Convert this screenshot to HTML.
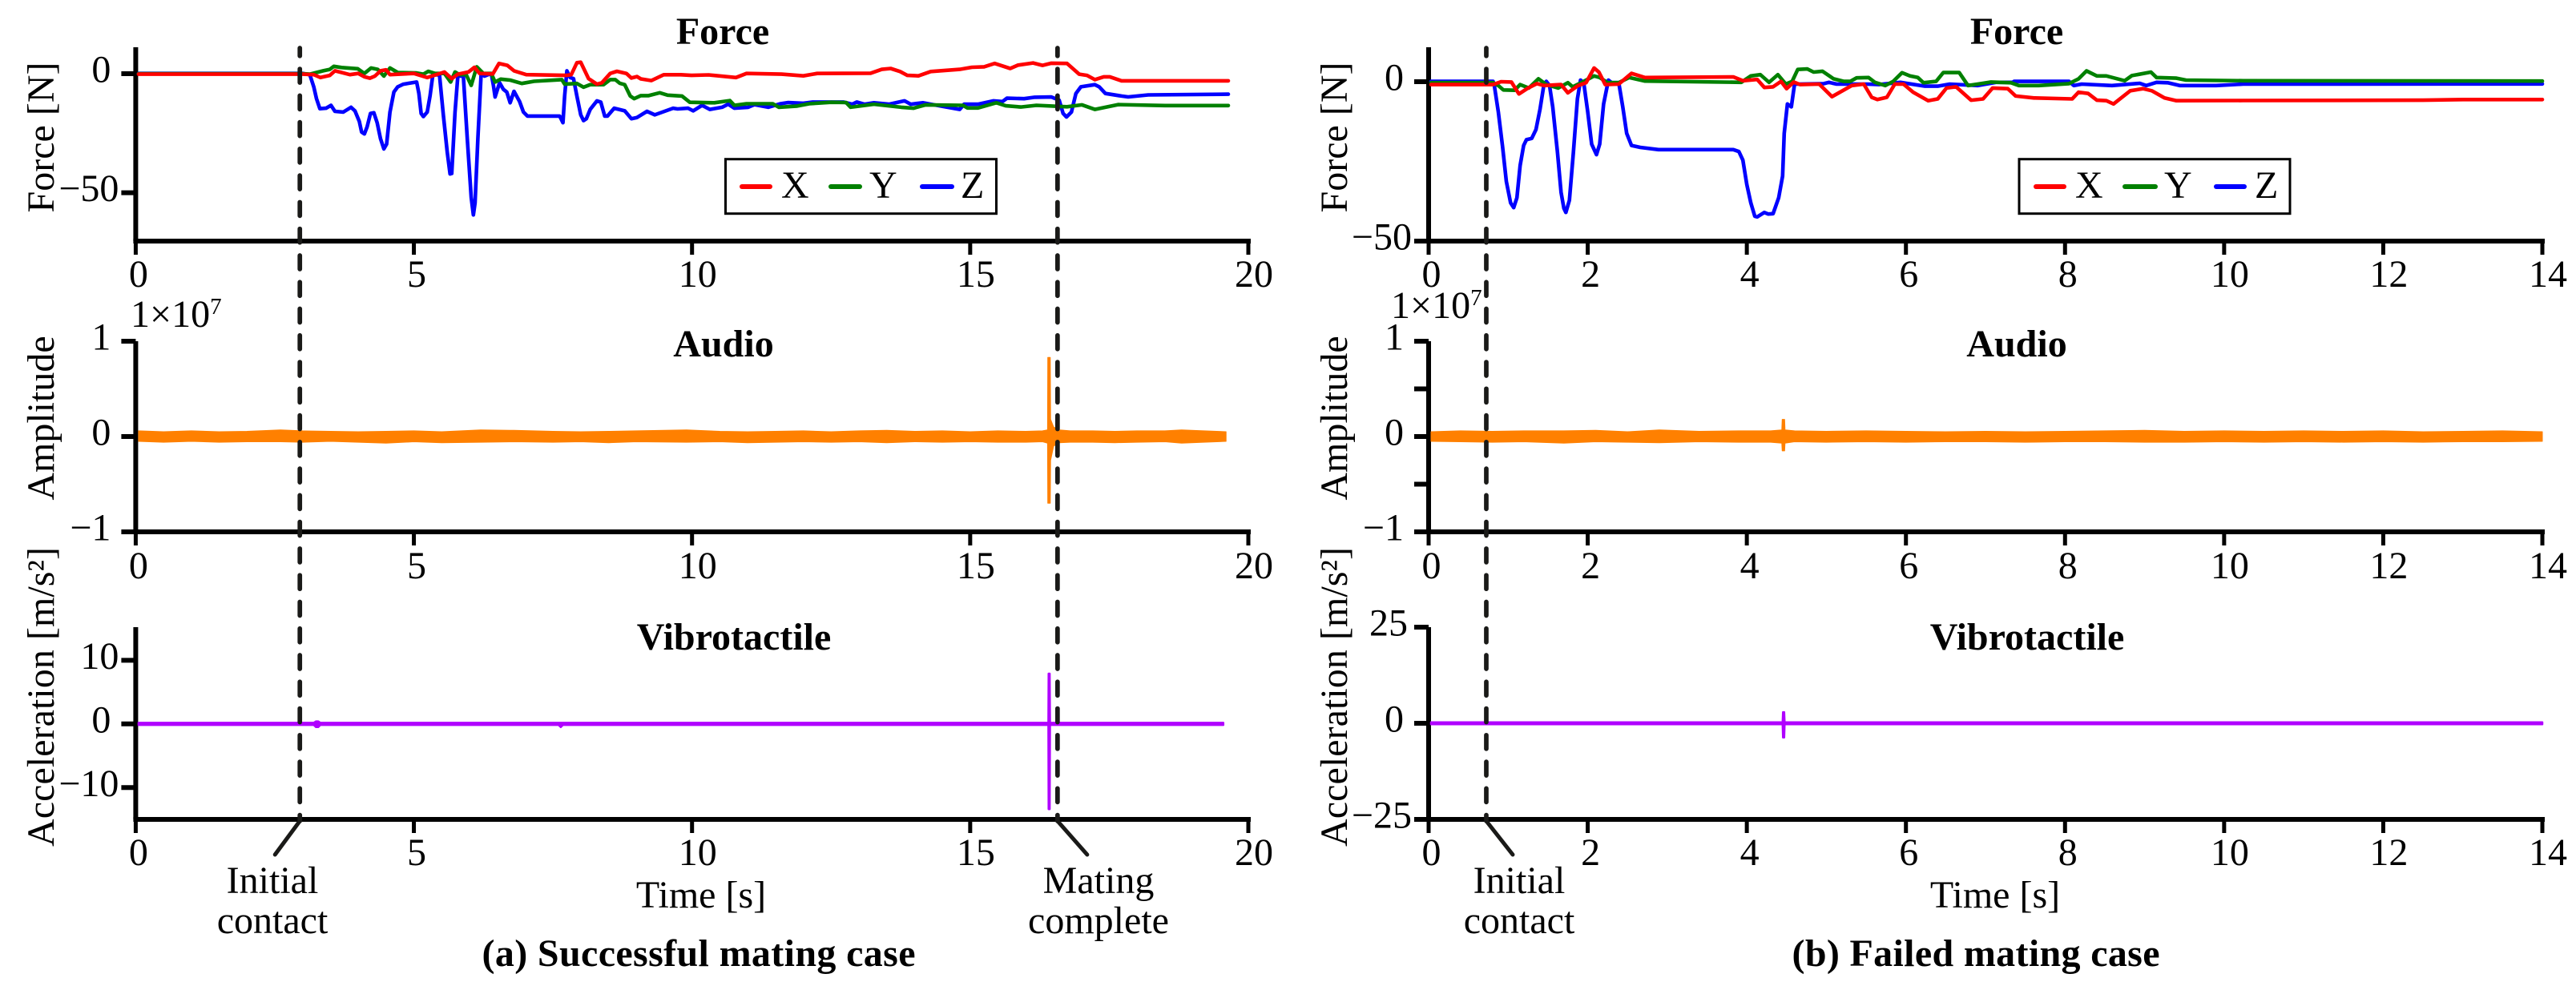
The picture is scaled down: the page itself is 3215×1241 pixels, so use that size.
<!DOCTYPE html>
<html lang="en">
<head>
<meta charset="utf-8">
<title>Mating case signals</title>
<style>
html,body{margin:0;padding:0;background:#fff;}
svg{display:block;}
text{font-family:"Liberation Serif","Times New Roman",serif;font-size:48px;fill:#000;}
.b{font-weight:bold;}
</style>
</head>
<body>
<svg id="chart" xmlns="http://www.w3.org/2000/svg" width="3215" height="1241" viewBox="0 0 3215 1241">
  <rect x="0" y="0" width="3215" height="1241" fill="#fff"/>
  <g id="plots"></g>

  <text class="b" x="902" y="55" text-anchor="middle">Force</text>
  <text class="b" x="903" y="445" text-anchor="middle">Audio</text>
  <text class="b" x="916" y="811" text-anchor="middle">Vibrotactile</text>
  <text class="b" x="2517" y="55" text-anchor="middle">Force</text>
  <text class="b" x="2517" y="445" text-anchor="middle">Audio</text>
  <text class="b" x="2530" y="811" text-anchor="middle">Vibrotactile</text>

  <text transform="translate(67 171.5) rotate(-90)" text-anchor="middle">Force [N]</text>
  <text transform="translate(67 522) rotate(-90)" text-anchor="middle">Amplitude</text>
  <text transform="translate(67 870) rotate(-90)" text-anchor="middle" textLength="374" lengthAdjust="spacing">Acceleration [m/s²]</text>
  <text transform="translate(1681 171.5) rotate(-90)" text-anchor="middle">Force [N]</text>
  <text transform="translate(1681 522) rotate(-90)" text-anchor="middle">Amplitude</text>
  <text transform="translate(1681 870) rotate(-90)" text-anchor="middle" textLength="374" lengthAdjust="spacing">Acceleration [m/s²]</text>

  <text x="163" y="408">1×10<tspan font-size="29" dy="-16">7</tspan></text>
  <text x="1736" y="397">1×10<tspan font-size="29" dy="-16">7</tspan></text>

  <g>
    <rect x="905.5" y="198.7" width="338" height="68" fill="#fff" stroke="#000" stroke-width="3"/>
    <line x1="926" y1="233" x2="961" y2="233" stroke="#ff0000" stroke-width="6" stroke-linecap="round"/>
    <text x="975" y="247">X</text>
    <line x1="1037" y1="233" x2="1073" y2="233" stroke="#008000" stroke-width="6" stroke-linecap="round"/>
    <text x="1085" y="247">Y</text>
    <line x1="1151" y1="233" x2="1188" y2="233" stroke="#0000ff" stroke-width="6" stroke-linecap="round"/>
    <text x="1199" y="247">Z</text>
  </g>
  <g>
    <rect x="2520" y="198.7" width="338" height="68" fill="#fff" stroke="#000" stroke-width="3"/>
    <line x1="2541" y1="233" x2="2576" y2="233" stroke="#ff0000" stroke-width="6" stroke-linecap="round"/>
    <text x="2590" y="247">X</text>
    <line x1="2652" y1="233" x2="2690" y2="233" stroke="#008000" stroke-width="6" stroke-linecap="round"/>
    <text x="2701" y="247">Y</text>
    <line x1="2766" y1="233" x2="2801" y2="233" stroke="#0000ff" stroke-width="6" stroke-linecap="round"/>
    <text x="2814" y="247">Z</text>
  </g>

  <g id="annotations"></g>

  <text x="340" y="1115" text-anchor="middle">Initial</text>
  <text x="340" y="1165" text-anchor="middle">contact</text>
  <text x="1371" y="1115" text-anchor="middle">Mating</text>
  <text x="1371" y="1165" text-anchor="middle">complete</text>
  <text x="1896" y="1115" text-anchor="middle">Initial</text>
  <text x="1896" y="1165" text-anchor="middle">contact</text>
  <text x="875" y="1133" text-anchor="middle">Time [s]</text>
  <text x="2490" y="1133" text-anchor="middle">Time [s]</text>
  <text class="b" x="872" y="1206" text-anchor="middle" textLength="541" lengthAdjust="spacing">(a) Successful mating case</text>
  <text class="b" x="2466" y="1206" text-anchor="middle" textLength="459" lengthAdjust="spacing">(b) Failed mating case</text>
</svg>

<script>
// ---------- DATA: case (a) force ----------
const forceAZTimes = [0.05,3.0,3.13,3.2,3.25,3.31,3.42,3.51,3.58,3.73,3.87,3.94,4.02,4.06,4.11,4.16,4.22,4.28,4.34,4.40,4.46,4.51,4.57,4.64,4.71,4.81,5.05,5.09,5.13,5.17,5.24,5.29,5.34,5.46,5.53,5.6,5.65,5.68,5.74,5.79,5.89,5.96,6.03,6.07,6.1,6.15,6.21,6.27,6.39,6.43,6.46,6.54,6.61,6.67,6.73,6.8,6.9,6.97,7.04,7.62,7.68,7.71,7.75,7.81,7.87,7.93,8.0,8.05,8.1,8.17,8.29,8.36,8.43,8.48,8.6,8.79,8.91,9.01,9.19,9.33,9.66,9.74,9.93,10.02,10.18,10.32,10.54,10.65,10.76,11.01,11.12,11.37,11.59,11.73,12.0,12.17,12.72,12.88,12.96,13.1,13.27,13.54,13.82,13.93,14.15,14.4,14.81,14.89,15.14,15.42,15.58,15.66,15.97,16.16,16.46,16.6,16.67,16.73,16.82,16.9,16.99,17.24,17.32,17.43,17.72,17.84,18.2,19.64];
const forceAZ = [0.1,0.1,-0.45,-5.5,-10.5,-14.7,-14.5,-13.3,-15.8,-16.1,-14.1,-15.6,-20.1,-24.5,-25.3,-22.3,-16.7,-16.4,-20.6,-27.3,-31.6,-29.6,-16.1,-7.7,-5.5,-4.4,-3.5,-8.3,-16.7,-18.0,-16.1,-9.4,-0.5,-0.5,-17.3,-33,-42.1,-41.9,-16.1,-1,-1,-27.3,-52,-59.3,-54.3,-27.3,0.7,-1,0.1,-4.9,-9.8,-3.8,-6.6,-7.7,-12.2,-7.4,-11.7,-16.1,-17.8,-17.8,-20.6,-9.4,1.2,-1.6,-2.1,-9.4,-17.3,-19.7,-18.9,-15,-11.4,-11.9,-17.8,-17.8,-14.5,-15.6,-18.9,-18.4,-15.8,-17.3,-14.5,-14.8,-14.5,-15.6,-13.3,-15,-14.1,-12.8,-14.5,-14.1,-13,-14.1,-12.6,-12.1,-12.4,-11.9,-11.9,-12.8,-11.9,-12.8,-12.2,-12.8,-11.4,-12.8,-12.2,-13.3,-15,-12.8,-12.8,-11.4,-11.7,-10.3,-10.5,-9.9,-9.8,-11.1,-16.7,-18.2,-16.1,-8.3,-5.5,-4.6,-5.5,-8.3,-9.4,-9.75,-8.9,-8.6];

const forceAYTimes = [0.05,3.0,3.13,3.37,3.49,3.56,3.7,3.99,4.11,4.23,4.35,4.46,4.57,4.71,5.05,5.17,5.26,5.38,5.55,5.66,5.74,5.82,5.94,6.03,6.13,6.25,6.39,6.46,6.56,6.73,6.94,7.16,7.66,7.71,7.93,8.05,8.17,8.41,8.53,8.62,8.7,8.79,8.89,8.96,9.08,9.22,9.42,9.56,9.82,9.96,10.4,10.68,10.76,10.98,11.45,11.56,11.89,12.11,12.5,12.77,12.85,13.27,13.76,13.98,14.2,14.87,14.95,15.14,15.47,15.64,15.91,16.19,16.74,17.01,17.24,17.66,18.5,19.64];
const forceAY = [0,0,-0.2,1.2,1.8,3.1,2.6,2.1,0.1,2.4,1.8,-1,2.4,0.5,0.3,-0.2,1,0.1,0.1,-3.5,0.7,-0.4,-0.4,-4.9,2.9,0.1,0.1,-3.5,-2.3,-2.7,-4.1,-3.2,-2.5,-4.4,-4.1,-5.7,-4.6,-4.6,-2.5,-2.5,-4,-4.6,-9.4,-10.5,-9.2,-9.2,-8,-9,-9.4,-12,-12.2,-11.3,-13.3,-12.6,-12.6,-14.1,-13.6,-12.6,-12,-12.1,-14.1,-12.8,-14.1,-14.5,-13.1,-13.3,-14.4,-14.4,-12.2,-13.5,-14,-13.3,-13.9,-13.1,-15,-13,-13.4,-13.4];

const forceAXTimes = [0.05,3.0,3.2,3.32,3.49,3.58,3.85,4.0,4.11,4.21,4.3,4.4,4.5,4.57,5.0,5.24,5.55,5.68,5.79,5.98,6.09,6.18,6.42,6.53,6.68,6.8,7.02,7.74,7.83,7.93,8.0,8.14,8.29,8.38,8.53,8.65,8.82,8.91,9.01,9.08,9.27,9.49,9.8,9.99,10.3,10.79,10.98,11.61,12.0,12.25,13.21,13.41,13.57,13.74,13.87,14.07,14.29,14.81,15.03,15.25,15.44,15.72,15.86,16.13,16.3,16.46,16.74,16.96,17.1,17.24,17.4,17.51,17.72,17.85,19.64];
const forceAX = [-0.2,-0.2,-0.4,-1.6,-0.7,1.2,-0.4,0.1,-1.3,-1.9,-1,1.2,1.6,-0.4,0.1,-1.6,0.7,-2.1,-0.2,0.7,2.7,0.1,-0.1,4.3,3.5,1.2,-0.4,-0.7,-0.4,4.6,4.8,-2.1,-4.4,-3.8,0.1,1,0.1,-1.8,-1.2,-2.2,-2.9,-0.45,-0.45,-0.7,-0.5,-1.6,0.1,-0.2,-0.9,0.1,0.2,1.8,2.2,0.9,-0.7,-0.9,0.9,1.8,2.7,2.9,4.3,2.2,3.6,4.5,3.5,4.4,4.3,-0.2,-0.7,-2.5,-1.3,-1.3,-3,-3,-3];

// ---------- DATA: case (b) force ----------
const forceBZTimes = [0.03,0.81,0.826,0.876,0.93,0.977,1.03,1.07,1.11,1.15,1.195,1.23,1.296,1.35,1.4,1.45,1.48,1.52,1.56,1.62,1.665,1.7,1.725,1.77,1.82,1.87,1.91,1.95,2.0,2.05,2.11,2.15,2.2,2.26,2.3,2.39,2.44,2.49,2.55,2.66,2.89,3.83,3.9,3.95,4.0,4.05,4.1,4.13,4.22,4.27,4.33,4.4,4.45,4.47,4.51,4.56,4.6,4.65,4.97,5.03,5.13,5.51,5.66,5.93,6.24,6.4,6.55,6.9,7.13,7.34,7.36,8.05,8.11,8.21,8.59,8.94,9.02,9.15,9.29,9.44,9.9,10.24,14.0];
const forceBZ = [0.1,0.1,-1.2,-9.5,-20.4,-31.3,-38,-39.5,-36.4,-26.3,-20,-18.2,-17.8,-15,-8.7,-0.75,0.1,-1.2,-7.9,-22.1,-34.7,-39.7,-41,-37.2,-22.1,-5.4,0.5,-0.3,-9.5,-19.6,-22.9,-19.6,-7,0.5,-0.3,-0.3,-7.9,-16.2,-20,-20.6,-21.3,-21.3,-21.9,-24.6,-32.2,-38,-42.2,-42.4,-41,-41.5,-41.4,-36.4,-29.6,-16.2,-7,-7.9,-0.75,-0.75,-0.6,-0.2,-0.75,-0.75,-0.9,-0.2,-1.4,-1.4,-0.75,-1.2,-0.2,-0.2,0.1,0.1,-1.2,-0.75,-1.2,-0.5,-1.2,-0.2,-0.34,-1.2,-1.2,-0.75,-0.7];

const forceBYTimes = [0.03,0.81,0.876,0.94,1.08,1.15,1.26,1.38,1.48,1.63,1.75,1.81,1.92,2.08,2.15,2.25,2.39,2.52,2.72,3.93,4.05,4.17,4.28,4.39,4.49,4.57,4.64,4.76,4.84,4.95,5.09,5.22,5.3,5.38,5.53,5.61,5.74,5.84,5.95,6.05,6.15,6.22,6.38,6.47,6.67,6.78,6.9,7.07,7.32,7.42,7.67,8.05,8.17,8.27,8.4,8.52,8.75,8.84,9.08,9.15,9.4,9.52,10.24,14.0];
const forceBY = [-0.3,-0.3,-1.2,-2.6,-2.7,-0.9,-2,0.9,-0.9,-2,-0.3,-1.6,-0.3,1.8,1.3,-0.3,-0.3,1.3,0.2,-0.2,1.8,2.2,-0.2,2.2,-0.75,0.1,3.85,4,3,3.3,0.9,0.1,0.1,1.2,1.3,-0.2,-1.2,0.1,2.8,1.8,1.3,-0.34,0.1,2.85,2.85,-1.2,-0.75,-0.1,-0.34,-1.2,-1.2,-0.6,0.9,3.4,1.8,1.8,0.3,1.9,3,1.3,1.1,0.5,0.3,0.2];

const forceBXTimes = [0.03,0.81,0.91,1.04,1.135,1.25,1.36,1.45,1.665,1.75,1.88,1.98,2.08,2.14,2.22,2.39,2.55,2.72,3.83,3.95,4.13,4.22,4.33,4.43,4.5,4.59,4.67,4.91,5.07,5.32,5.47,5.57,5.64,5.76,5.86,5.97,6.09,6.28,6.4,6.51,6.63,6.82,6.97,7.09,7.28,7.38,7.61,8.09,8.17,8.29,8.4,8.52,8.61,8.82,8.98,9.09,9.25,9.4,10.24,12.5,13,14.0];
const forceBX = [-0.9,-0.9,0,-0.1,-3.85,-2,-0.6,-1.2,-0.9,-3.5,-1.2,-0.3,4.3,3,-0.9,-0.75,2.6,1.3,1.5,0.3,0.7,-1.8,-1.6,0.1,-2.2,-0.1,-0.9,-0.75,-4.7,-1.2,-0.75,-4.9,-5.6,-4.9,-0.75,-0.75,-3.3,-5.95,-5.4,-2,-1.6,-5.8,-5.4,-2,-2.2,-4.5,-5.1,-5.4,-3.3,-3.7,-5.8,-5.95,-7,-2.85,-2.2,-2.85,-5.1,-5.95,-5.9,-5.8,-5.6,-5.6];

// ---------- DATA: audio envelopes (units of 1e7) ----------
const audioATimes = [0.05,0.5,1,1.5,2,2.6,3,3.5,4,4.5,5,5.5,6.2,6.8,7.5,8,8.5,9,9.9,10.5,11,11.5,12,12.5,13,13.5,14,14.5,15,15.5,16,16.3,16.39,16.395,16.44,16.445,16.5,16.6,16.8,17.2,17.6,18,18.5,18.8,19.2,19.6];
const audioAUpper = [0.06,0.05,0.06,0.05,0.055,0.07,0.06,0.055,0.05,0.055,0.06,0.05,0.07,0.065,0.055,0.05,0.055,0.06,0.07,0.055,0.05,0.055,0.06,0.05,0.06,0.065,0.055,0.06,0.05,0.06,0.055,0.06,0.07,0.83,0.83,0.18,0.1,0.07,0.06,0.06,0.055,0.06,0.06,0.07,0.06,0.05];
const audioALower = [-0.05,-0.06,-0.05,-0.06,-0.055,-0.055,-0.06,-0.05,-0.06,-0.07,-0.055,-0.065,-0.06,-0.055,-0.06,-0.055,-0.065,-0.055,-0.06,-0.055,-0.065,-0.06,-0.055,-0.06,-0.055,-0.065,-0.055,-0.06,-0.055,-0.06,-0.06,-0.055,-0.07,-0.7,-0.7,-0.25,-0.1,-0.065,-0.06,-0.06,-0.065,-0.06,-0.055,-0.07,-0.06,-0.05];

const audioBTimes = [0.03,0.4,0.8,1.2,1.7,2.1,2.5,2.9,3.4,3.9,4.3,4.44,4.445,4.475,4.48,4.6,5,5.5,6,6.5,7,7.5,8,8.5,9,9.5,10,10.5,11,11.5,12,12.5,13,13.5,14];
const audioBUpper = [0.05,0.06,0.055,0.06,0.06,0.065,0.05,0.07,0.055,0.06,0.06,0.07,0.18,0.18,0.07,0.06,0.055,0.06,0.055,0.05,0.055,0.05,0.055,0.06,0.065,0.055,0.06,0.055,0.06,0.055,0.06,0.05,0.055,0.06,0.05];
const audioBLower = [-0.05,-0.055,-0.06,-0.055,-0.07,-0.055,-0.06,-0.065,-0.055,-0.06,-0.06,-0.07,-0.15,-0.15,-0.07,-0.055,-0.06,-0.055,-0.06,-0.055,-0.055,-0.06,-0.055,-0.055,-0.06,-0.06,-0.055,-0.06,-0.055,-0.06,-0.055,-0.06,-0.055,-0.055,-0.05];

// ---------- DATA: vibrotactile envelopes (m/s²) ----------
const vibATimes = [0.05,3.2,3.24,3.28,3.32,7.6,7.64,7.68,16.405,16.41,16.43,16.435,19.55];
const vibAUpper = [0.17,0.17,0.4,0.4,0.17,0.17,0.17,0.17,0.17,7.9,7.9,0.17,0.17];
const vibALower = [-0.17,-0.17,-0.5,-0.5,-0.17,-0.17,-0.5,-0.17,-0.17,-13.4,-13.4,-0.17,-0.17];

const vibBTimes = [0.03,4.45,4.455,4.47,4.475,14];
const vibBUpper = [0.28,0.28,2.9,2.9,0.28,0.28];
const vibBLower = [-0.28,-0.28,-3.7,-3.7,-0.28,-0.28];

// ---------- DATA: axes ----------
const xTicksA = [0,5,10,15,20];
const xTicksB = [0,2,4,6,8,10,12,14];
const forceYTicksA = [0,-50];
const forceYTicksB = [0,-50];
const audioYTicksA = [1,0,-1];
const audioYTicksB = [1,0,-1];
const audioYMinorTicksB = [0.5,-0.5];
const vibYTicksA = [10,0,-10];
const vibYTicksB = [25,0,-25];
const contactTimeA = 2.95;
const completeTimeA = 16.57;
const contactTimeB = 0.725;

// ---------- helpers ----------
const SVGNS = 'http://www.w3.org/2000/svg';
const plots = document.getElementById('plots');
const annotations = document.getElementById('annotations');
function scale(d0, d1, r0, r1) { return v => r0 + (v - d0) * (r1 - r0) / (d1 - d0); }
function make(tag, attrs, parent) {
  const el = document.createElementNS(SVGNS, tag);
  for (const k in attrs) el.setAttribute(k, attrs[k]);
  parent.appendChild(el);
  return el;
}
function fmt(v) { return v < 0 ? '\u2212' + Math.abs(v) : String(v); }

const colX = {a:{x0:169.4,x1:1558,dmax:20,ticks:xTicksA}, b:{x0:1783,x1:3173,dmax:14,ticks:xTicksB}};

function drawAxes(name, side, yDomain, yRange, yTicks, minor, xLabelY, gap2) {
  const c = colX[side];
  const sx = scale(0, c.dmax, c.x0, c.x1);
  const sy = scale(yDomain[0], yDomain[1], yRange[0], yRange[1]);
  const g = make('g', {}, plots);
  
  
  const yAxis = make('line', {x1:c.x0, x2:c.x0, y1:yRange[1], y2:yRange[0], stroke:'#000', 'stroke-width':6}, g);
  
  
  const xAxis = make('line', {x1:c.x0 - 3, x2:c.x1 + 3, y1:yRange[0], y2:yRange[0], stroke:'#000', 'stroke-width':6}, g);
  
  
  c.ticks.forEach(t => {
    const tk = make('line', {x1:sx(t), x2:sx(t), y1:yRange[0], y2:yRange[0] + 17, stroke:'#000', 'stroke-width':5}, g);
    
    
    const digits = String(t).length;
    const lb = make('text', {x:sx(t) + (digits === 1 ? 3.5 : 7), y:xLabelY, 'text-anchor':'middle'}, g);
    lb.textContent = fmt(t);
    
    
  });
  yTicks.forEach(v => {
    const tk = make('line', {x1:c.x0 - 18, x2:c.x0, y1:sy(v), y2:sy(v), stroke:'#000', 'stroke-width':6}, g);
    
    
    const digits = String(Math.abs(v)).length;
    let gap = digits === 1 ? 31 : 21;
    if (v > 0 && digits === 2) gap = gap2;
    const lb = make('text', {x:c.x0 - gap, y:sy(v) + 10.5, 'text-anchor':'end'}, g);
    lb.textContent = fmt(v);
    
    
  });
  (minor || []).forEach(v => {
    const tk = make('line', {x1:c.x0 - 18, x2:c.x0, y1:sy(v), y2:sy(v), stroke:'#000', 'stroke-width':6}, g);
    
    
  });
  return {sx, sy};
}

function drawLine(name, times, values, ax, color) {
  const pts = times.map((t, i) => ax.sx(t).toFixed(1) + ',' + ax.sy(values[i]).toFixed(1)).join(' ');
  const el = make('polyline', {points:pts, fill:'none', stroke:color, 'stroke-width':4.6, 'stroke-linejoin':'round', 'stroke-linecap':'round'}, plots);
  
  
}

function drawBand(name, times, upper, lower, ax, color, sw) {
  const up = times.map((t, i) => ax.sx(t).toFixed(1) + ',' + ax.sy(upper[i]).toFixed(1));
  const lo = times.map((t, i) => ax.sx(t).toFixed(1) + ',' + ax.sy(lower[i]).toFixed(1)).reverse();
  const el = make('polygon', {points:up.concat(lo).join(' '), fill:color, stroke:color, 'stroke-width':sw, 'stroke-linejoin':'round'}, plots);
  
  
}

function drawMarker(name, t, side, endDx) {
  const c = colX[side];
  const x = scale(0, c.dmax, c.x0, c.x1)(t);
  const dash = make('line', {x1:x, x2:x, y1:60, y2:1025, stroke:'#1a1a18', 'stroke-width':5.7, 'stroke-linecap':'round', 'stroke-dasharray':'17 16.27', 'stroke-dashoffset':7.2}, annotations);
  
  
  const lead = make('line', {x1:x, x2:x + endDx, y1:1025, y2:1067, stroke:'#1a1a18', 'stroke-width':5, 'stroke-linecap':'round'}, annotations);
  
  
}

// ---------- draw ----------
const fa = drawAxes('force-a', 'a', [-70.3, 11.1], [301, 59], forceYTicksA, null, 358, 21);
drawLine('force-z-line-a', forceAZTimes, forceAZ, fa, '#0000ff');
drawLine('force-y-line-a', forceAYTimes, forceAY, fa, '#008000');
drawLine('force-x-line-a', forceAXTimes, forceAX, fa, '#ff0000');

const aa = drawAxes('audio-a', 'a', [-1, 1], [664, 426], audioYTicksA, null, 722, 21);
drawBand('audio-signal-a', audioATimes, audioAUpper, audioALower, aa, '#ff8000', 1);

const va = drawAxes('vibrotactile-a', 'a', [-15, 15.2], [1023, 783], vibYTicksA, null, 1080, 21);
drawBand('vibrotactile-signal-a', vibATimes, vibAUpper, vibALower, va, '#b000ff', 2.5);

const fb = drawAxes('force-b', 'b', [-50, 10.8], [301, 59], forceYTicksB, null, 358, 21);
drawLine('force-z-line-b', forceBZTimes, forceBZ, fb, '#0000ff');
drawLine('force-y-line-b', forceBYTimes, forceBY, fb, '#008000');
drawLine('force-x-line-b', forceBXTimes, forceBX, fb, '#ff0000');

const ab = drawAxes('audio-b', 'b', [-1, 1], [664, 426], audioYTicksB, audioYMinorTicksB, 722, 21);
drawBand('audio-signal-b', audioBTimes, audioBUpper, audioBLower, ab, '#ff8000', 1);

const vb = drawAxes('vibrotactile-b', 'b', [-25, 25], [1023, 783], vibYTicksB, null, 1080, 26);
drawBand('vibrotactile-signal-b', vibBTimes, vibBUpper, vibBLower, vb, '#b000ff', 2.5);

drawMarker('initial-contact-a', contactTimeA, 'a', -31);
drawMarker('mating-complete', completeTimeA, 'a', 37);
drawMarker('initial-contact-b', contactTimeB, 'b', 33);
</script>
</body>
</html>
